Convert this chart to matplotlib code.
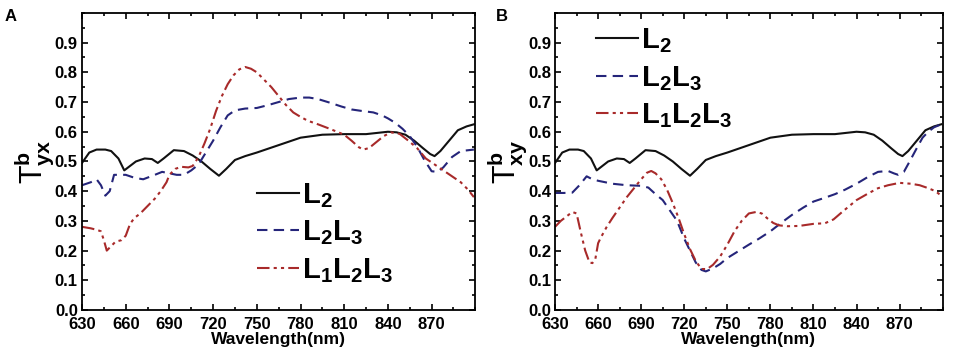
import matplotlib
matplotlib.use("Agg")
import matplotlib.pyplot as plt
from matplotlib.ticker import MultipleLocator

plt.rcParams['font.family'] = ['Liberation Sans', 'DejaVu Sans']
plt.rcParams['font.weight'] = 'bold'
plt.rcParams['mathtext.fontset'] = 'custom'
plt.rcParams['mathtext.rm'] = 'Liberation Sans:bold'
plt.rcParams['mathtext.it'] = 'Liberation Sans:bold'
plt.rcParams['mathtext.bf'] = 'Liberation Sans:bold'

# ---- Data ----
wl_l2 = [630, 635, 640, 646, 650, 655, 659, 663, 667, 673, 678, 682, 686, 693, 700, 706, 712, 718, 724,
         729, 735, 742, 750, 765, 780, 795, 810, 825, 840, 846, 852, 858, 864, 869, 872, 876, 882, 888, 894, 899]
t_l2 = [0.495, 0.53, 0.54, 0.54, 0.535, 0.51, 0.47, 0.485, 0.50, 0.51, 0.508, 0.495, 0.51, 0.538, 0.535, 0.52, 0.50, 0.475, 0.452,
        0.475, 0.505, 0.518, 0.53, 0.555, 0.58, 0.59, 0.592, 0.592, 0.60, 0.598, 0.59, 0.57, 0.545, 0.525, 0.518, 0.535, 0.57, 0.605, 0.618, 0.625]

wl_a_l2l3 = [630, 636, 640, 643, 646, 649, 652, 660, 666, 672, 680, 685, 690, 695, 700, 705, 710, 715, 720, 725, 730, 735,
             742, 750, 758, 765, 772, 780, 786, 792, 800, 808, 815, 822, 830, 836, 840, 845, 850, 855, 860, 865, 870,
             874, 878, 884, 890, 899]
t_a_l2l3 = [0.42, 0.43, 0.44, 0.42, 0.385, 0.40, 0.455, 0.455, 0.445, 0.44, 0.455, 0.465, 0.46, 0.455, 0.455, 0.47, 0.49,
            0.53, 0.57, 0.615, 0.655, 0.672, 0.678, 0.68, 0.69, 0.70, 0.71, 0.715, 0.715, 0.71, 0.698, 0.685, 0.675, 0.67,
            0.665, 0.655, 0.645, 0.63, 0.61, 0.585, 0.55, 0.505, 0.467, 0.465, 0.48, 0.515, 0.535, 0.54]

wl_a_l1l2l3 = [630, 636, 640, 643, 645, 647, 650, 653, 657, 660, 663, 666, 670, 675, 680, 684, 688, 690, 694, 698, 703,
               706, 710, 714, 718, 722, 726, 730, 734, 738, 742, 746, 750, 755, 760, 765, 770, 775, 780, 785, 792,
               800, 806, 810, 815, 820, 823, 827, 832, 837, 842, 848, 854, 860, 866, 872, 878, 884, 890, 895, 899]
t_a_l1l2l3 = [0.28, 0.275, 0.27, 0.265, 0.235, 0.20, 0.215, 0.23, 0.235, 0.25, 0.29, 0.31, 0.325, 0.35, 0.375, 0.40, 0.43,
              0.455, 0.475, 0.482, 0.48, 0.485, 0.515, 0.56, 0.61, 0.67, 0.72, 0.76, 0.79, 0.81, 0.818, 0.812, 0.80,
              0.775, 0.75, 0.72, 0.69, 0.665, 0.65, 0.637, 0.625, 0.61, 0.598, 0.59, 0.57, 0.548, 0.54, 0.545, 0.565,
              0.585, 0.598, 0.593, 0.57, 0.545, 0.51, 0.49, 0.47, 0.45, 0.43, 0.405, 0.38]

wl_b_l2l3 = [630, 636, 642, 647, 652, 656, 660, 670, 680, 690, 695, 700, 705, 710, 715, 720, 724, 728, 732, 735, 740,
             745, 750, 755, 760, 765, 772, 780, 788, 795, 803, 810, 818, 825, 832, 840, 848, 855, 862, 866, 869,
             873, 877, 882, 886, 890, 894, 899]
t_b_l2l3 = [0.394, 0.394, 0.395, 0.42, 0.45, 0.44, 0.435, 0.425, 0.42, 0.418, 0.412, 0.39, 0.37, 0.335, 0.30, 0.24, 0.20,
            0.16, 0.135, 0.13, 0.14, 0.155, 0.175, 0.19, 0.205, 0.22, 0.24, 0.265, 0.295, 0.32, 0.345, 0.365, 0.378,
            0.39, 0.405, 0.425, 0.448, 0.465, 0.468, 0.46, 0.455, 0.465, 0.50, 0.545, 0.58, 0.60, 0.615, 0.625]

wl_b_l1l2l3 = [630, 634, 638, 642, 645, 648, 651, 654, 656, 658, 660, 662, 666, 670, 675, 680, 685, 690, 694, 697, 700,
               704, 708, 712, 716, 720, 724, 728, 732, 736, 740, 745, 750, 755, 760, 765, 770, 774, 778, 782, 786,
               792, 800, 810, 818, 824, 830, 840, 848, 855, 862, 870, 878, 884, 890, 895, 899]
t_b_l1l2l3 = [0.28, 0.30, 0.315, 0.33, 0.325, 0.26, 0.20, 0.16, 0.158, 0.17, 0.225, 0.245, 0.28, 0.31, 0.345, 0.38,
              0.41, 0.44, 0.462, 0.468, 0.46, 0.44, 0.405, 0.36, 0.31, 0.255, 0.205, 0.165, 0.138, 0.138, 0.152,
              0.18, 0.22, 0.265, 0.30, 0.325, 0.33, 0.325, 0.308, 0.293, 0.285, 0.282, 0.283, 0.29, 0.292, 0.305,
              0.33, 0.37, 0.392, 0.41, 0.42, 0.428, 0.425, 0.42, 0.41, 0.40, 0.385]

xticks = [630, 660, 690, 720, 750, 780, 810, 840, 870]
yticks = [0.0, 0.1, 0.2, 0.3, 0.4, 0.5, 0.6, 0.7, 0.8, 0.9]
labels = [r'L$_2$', r'L$_2$L$_3$', r'L$_1$L$_2$L$_3$']

c_black = '#111111'
c_blue = '#25257a'
c_red = '#a82a2a'
ls_red = (0, (6, 2, 1.5, 2, 1.5, 2))

fig = plt.figure(figsize=(9.57, 3.58), dpi=100)
axA = fig.add_axes([0.0857, 0.134, 0.411, 0.830])
axB = fig.add_axes([0.580, 0.134, 0.405, 0.830])

def style(ax, ylabel):
    ax.set_xlim(630, 900)
    ax.set_ylim(0, 1.0)
    ax.set_xticks(xticks)
    ax.set_yticks(yticks)
    ax.set_yticklabels([f'{v:.1f}' for v in yticks])
    ax.xaxis.set_minor_locator(MultipleLocator(15))
    ax.yaxis.set_minor_locator(MultipleLocator(0.05))
    ax.tick_params(which='both', direction='in', top=True, right=True, width=1.2)
    ax.tick_params(axis='y', labelsize=12, pad=3)
    ax.tick_params(axis='x', labelsize=12, pad=5)
    ax.tick_params(which='major', length=4)
    ax.tick_params(which='minor', length=2)
    for lab in ax.get_xticklabels() + ax.get_yticklabels():
        lab.set_fontweight('bold')
    for sp in ax.spines.values():
        sp.set_linewidth(1.3)
    ax.set_xlabel('Wavelength(nm)', fontsize=12.5, fontweight='bold', labelpad=0)
    ax.set_ylabel(ylabel, fontsize=22, labelpad=-1)

leg_kw = dict(frameon=False, fontsize=21, handlelength=1.45, handletextpad=0.1,
              labelspacing=0.3, borderpad=0, borderaxespad=0)

# Panel A
axA.plot(wl_l2, t_l2, color=c_black, lw=1.5, label=labels[0])
axA.plot(wl_a_l2l3, t_a_l2l3, color=c_blue, lw=1.5, ls=(0, (5, 3)), label=labels[1])
axA.plot(wl_a_l1l2l3, t_a_l1l2l3, color=c_red, lw=1.5, ls=ls_red, label=labels[2])
style(axA, r'T$^b_{yx}$')
axA.legend(loc='center left', bbox_to_anchor=(0.445, 0.26), **leg_kw)

# Panel B
axB.plot(wl_l2, t_l2, color=c_black, lw=1.5, label=labels[0])
axB.plot(wl_b_l2l3, t_b_l2l3, color=c_blue, lw=1.5, ls=(0, (5, 3)), label=labels[1])
axB.plot(wl_b_l1l2l3, t_b_l1l2l3, color=c_red, lw=1.5, ls=ls_red, label=labels[2])
style(axB, r'T$^b_{xy}$')
axB.legend(loc='center left', bbox_to_anchor=(0.105, 0.78), **leg_kw)

fig.text(0.005, 0.975, 'A', fontsize=12, fontweight='bold', va='top')
fig.text(0.518, 0.975, 'B', fontsize=12, fontweight='bold', va='top')

fig.savefig('out.png', dpi=100)
